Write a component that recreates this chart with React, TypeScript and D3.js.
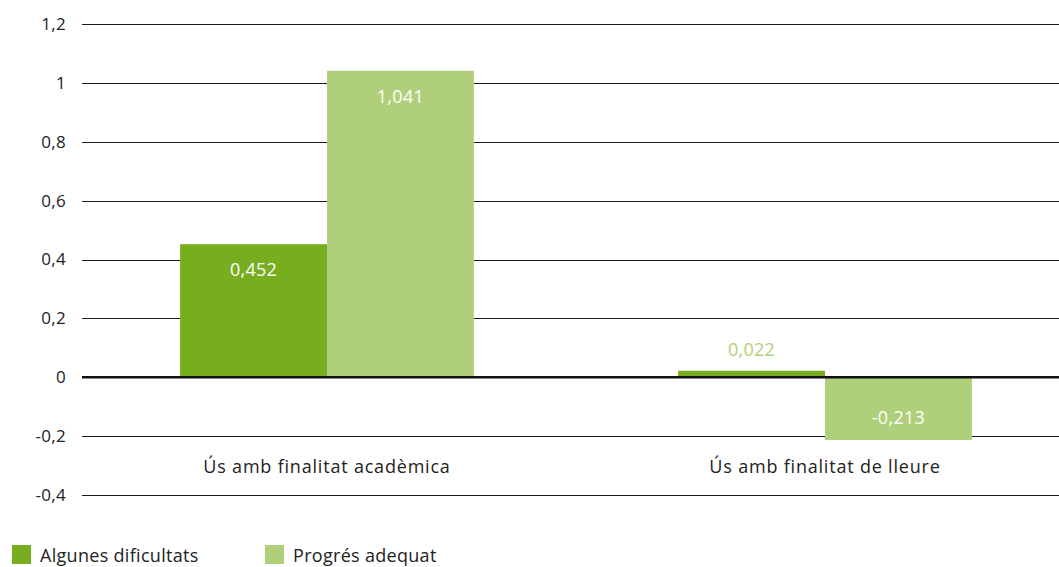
import React from 'react'
import * as d3 from 'd3'

const categories = ['Ús amb finalitat acadèmica', 'Ús amb finalitat de lleure']
const seriesNames = ['Algunes dificultats', 'Progrés adequat']
const algunesDificultats = [0.452, 0.022]
const progresAdequat = [1.041, -0.213]
const yTicks = [-0.4, -0.2, 0, 0.2, 0.4, 0.6, 0.8, 1, 1.2]
const colors = ['#78ad1f', '#afcf7a']

const fmt = (v: number) => String(v).replace('.', ',')

export default function App() {
  const width = 1059
  const height = 567
  const font = '"Open Sans", "Liberation Sans", sans-serif'

  const y = d3.scaleLinear().domain([-0.4, 1.2]).range([495, 24])
  const x0 = d3.scaleBand<string>().domain(categories).range([78, 1074])
  const bw = x0.bandwidth()
  const x1 = d3
    .scaleBand<string>()
    .domain(seriesNames)
    .range([bw * 0.205, bw * 0.795])

  const series = [algunesDificultats, progresAdequat]

  return (
    <svg width={width} height={height} style={{ position: 'absolute', left: 0, top: 0 }}>
      {yTicks.map(t => (
        <g key={t}>
          <line
            x1={82}
            x2={width}
            y1={Math.round(y(t)) + 0.5}
            y2={Math.round(y(t)) + 0.5}
            stroke="#1a1a1a"
            strokeWidth={1.2}
          />
          <text
            x={66}
            y={y(t)}
            dy="0.35em"
            textAnchor="end"
            fontFamily={font}
            fontSize={17}
            letterSpacing={0.3}
            fill="#222"
          >
            {fmt(t)}
          </text>
        </g>
      ))}
      {categories.map((c, ci) => (
        <g key={c} transform={`translate(${x0(c)},0)`}>
          {seriesNames.map((s, si) => {
            const v = series[si][ci]
            const top = y(Math.max(0, v))
            const h = Math.abs(y(v) - y(0))
            const cx = (x1(s) as number) + x1.bandwidth() / 2
            let ly = v >= 0 ? top + 26 : y(v) - 22
            let fill = '#fff'
            if (h < 30) {
              ly = top - 21
              fill = colors[1]
            }
            return (
              <g key={s}>
                <rect x={x1(s)} y={top} width={x1.bandwidth()} height={h} fill={colors[si]} />
                <text
                  x={cx}
                  y={ly}
                  dy="0.35em"
                  textAnchor="middle"
                  fontFamily={font}
                  fontSize={18}
                  letterSpacing={0.3}
                  fill={fill}
                >
                  {fmt(v)}
                </text>
              </g>
            )
          })}
          <text
            x={bw / 2}
            y={467}
            dy="0.35em"
            textAnchor="middle"
            fontFamily={font}
            fontSize={18}
            letterSpacing={0.8}
            fill="#222"
          >
            {c}
          </text>
        </g>
      ))}
      <line x1={82} x2={width} y1={y(0)} y2={y(0)} stroke="#111" strokeWidth={2.5} />
      {seriesNames.map((s, i) => (
        <g key={s} transform={`translate(${i === 0 ? 12 : 265},545)`}>
          <rect width={19} height={19} fill={colors[i]} />
          <text x={28} y={11} dy="0.35em" fontFamily={font} fontSize={18} letterSpacing={0.3} fill="#222">
            {s}
          </text>
        </g>
      ))}
    </svg>
  )
}
